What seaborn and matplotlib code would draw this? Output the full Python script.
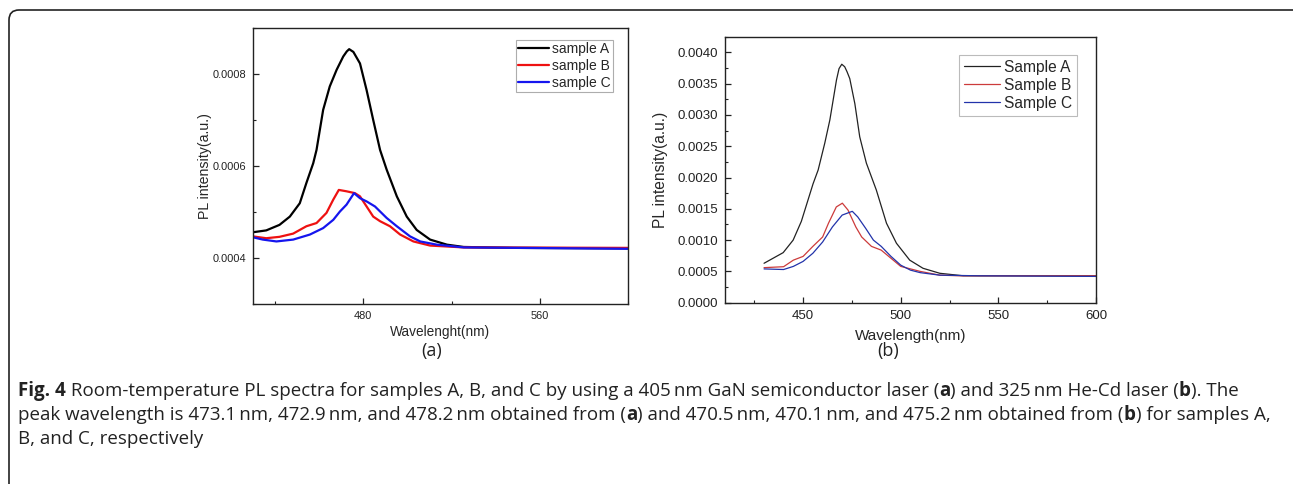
import numpy as np
import pandas as pd
import matplotlib
matplotlib.use("Agg")
import matplotlib.pyplot as plt
import seaborn as sns
from matplotlib.ticker import MultipleLocator
from matplotlib.patches import FancyBboxPatch
from matplotlib.transforms import IdentityTransform

# ---------------- data: panel (a) ----------------
a_A_x = [430, 436, 442, 446.7, 451.2, 454.2, 457.3, 458.8, 461.8, 464.8, 467.9, 470.9, 472.5, 473.6,
         475.5, 478.5, 481.5, 484.5, 487.6, 490.6, 495.2, 499.7, 504.2, 510.3, 517.9, 525.5, 548.2, 600]
a_A_y = [0.000456, 0.00046, 0.000472, 0.00049, 0.000519, 0.000563, 0.000606, 0.000635, 0.000722,
         0.000773, 0.000809, 0.000838, 0.000849, 0.000854, 0.000848, 0.000823, 0.000765, 0.0007, 0.000635,
         0.000592, 0.000534, 0.00049, 0.000461, 0.00044, 0.000429, 0.000424, 0.000422, 0.000421]

a_B_x = [430, 436, 442, 448.2, 454.2, 458.8, 463.3, 466.4, 468.9, 472.4, 476.2, 478.5, 481.5,
         484.5, 487.6, 492.1, 496.7, 502.7, 510.3, 525.5, 600]
a_B_y = [0.000447, 0.000443, 0.000446, 0.000453, 0.000469, 0.000476, 0.000498, 0.000527, 0.000548,
         0.000545, 0.000541, 0.000534, 0.000512, 0.00049, 0.00048, 0.000469, 0.000451, 0.000436,
         0.000427, 0.000423, 0.000422]

a_C_x = [430, 434.5, 440.6, 448.2, 455.8, 461.8, 466.4, 469.4, 472.4, 475.8, 478.5, 481.5, 485.3,
         490.6, 495.2, 501.2, 505.8, 513.3, 525.5, 600]
a_C_y = [0.000445, 0.00044, 0.000436, 0.00044, 0.000451, 0.000465, 0.000483, 0.000501, 0.000516,
         0.000541, 0.00053, 0.000523, 0.000512, 0.000487, 0.000469, 0.000447, 0.000436, 0.000429,
         0.000423, 0.00042]

# ---------------- data: panel (b) ----------------
b_A_x = [430, 439.8, 444.9, 449.1, 455.1, 457.7, 461.1, 463.7, 467.1, 468.4, 469.8, 471.3, 472.5,
         473.9, 476.5, 479, 482.4, 487.5, 492.7, 497.8, 504.6, 511.4, 520, 532, 600]
b_A_y = [0.00063, 0.0008, 0.001, 0.0013, 0.0019, 0.00212, 0.00255, 0.00292, 0.00356, 0.00374,
         0.00381, 0.00377, 0.00369, 0.00358, 0.00318, 0.00265, 0.00223, 0.0018, 0.00127, 0.00095,
         0.00068, 0.00055, 0.00047, 0.00043, 0.00043]

b_B_x = [430, 440, 445, 450, 455, 460, 463, 467, 470.1, 473, 477, 480, 485, 490, 495, 500, 510,
         520, 530, 600]
b_B_y = [0.00056, 0.000575, 0.00068, 0.00074, 0.0009, 0.00105, 0.00127, 0.00153, 0.00159, 0.00148,
         0.00121, 0.00105, 0.0009, 0.00084, 0.00071, 0.00058, 0.0005, 0.00044, 0.00043, 0.00043]

b_C_x = [430, 440, 445, 450, 455, 460, 465, 470, 475.2, 478, 482, 486, 490, 495, 500, 505, 510,
         520, 540, 600]
b_C_y = [0.00054, 0.00053, 0.00058, 0.00066, 0.00079, 0.00097, 0.00121, 0.0014, 0.00146, 0.00137,
         0.00119, 0.001, 0.0009, 0.00074, 0.0006, 0.00052, 0.00048, 0.00044, 0.00043, 0.00042]

labels_a = ["sample A", "sample B", "sample C"]
labels_b = ["Sample A", "Sample B", "Sample C"]

# ---------------- figure ----------------
sns.set_style("ticks")
plt.rcParams["font.family"] = ["Liberation Sans", "DejaVu Sans"]

W, H = 1293, 484
fig = plt.figure(figsize=(W / 100, H / 100), dpi=100)
fig.patch.set_facecolor("white")


def px_axes(left, top, right, bottom):
    return fig.add_axes([left / W, (H - bottom) / H, (right - left) / W, (bottom - top) / H])


def style_axes(ax, fs):
    for s in ax.spines.values():
        s.set_visible(True)
        s.set_color("#222222")
        s.set_linewidth(1.0)
    ax.tick_params(which="major", direction="in", length=4, width=0.9, labelsize=fs,
                   top=False, right=False, pad=5, colors="#222222")
    ax.tick_params(which="minor", direction="in", length=2.5, width=0.8, top=False, right=False,
                   colors="#222222")


# panel (a)
ax1 = px_axes(253, 28, 628, 304)
for xs, ys, lab, col in zip([a_A_x, a_B_x, a_C_x], [a_A_y, a_B_y, a_C_y], labels_a,
                            ["#000000", "#ee1111", "#1515ee"]):
    df = pd.DataFrame({"x": xs, "y": ys})
    sns.lineplot(data=df, x="x", y="y", ax=ax1, color=col, lw=1.6, label=lab, sort=False)
ax1.set_xlim(430, 600)
ax1.set_ylim(0.0003, 0.0009)
ax1.xaxis.set_major_locator(MultipleLocator(80))
ax1.xaxis.set_minor_locator(MultipleLocator(40))
ax1.yaxis.set_major_locator(MultipleLocator(0.0002))
ax1.yaxis.set_minor_locator(MultipleLocator(0.0001))
ax1.yaxis.set_major_formatter(matplotlib.ticker.FuncFormatter(lambda v, p: f"{v:.4f}"))
style_axes(ax1, 7.9)
ax1.set_xlabel("Wavelenght(nm)", fontsize=9.8, labelpad=3)
ax1.set_ylabel("PL intensity(a.u.)", fontsize=10.2, labelpad=0.5)
leg1 = ax1.legend(loc="upper right", bbox_to_anchor=(0.96, 0.957), fontsize=10, frameon=True,
                  fancybox=False, edgecolor="#999999", borderpad=0.15, labelspacing=0.2,
                  handlelength=2.2, handletextpad=0.25, borderaxespad=0.0)
leg1.get_frame().set_linewidth(0.8)

# panel (b)
ax2 = px_axes(725, 36.7, 1096, 302.7)
for xs, ys, lab, col in zip([b_A_x, b_B_x, b_C_x], [b_A_y, b_B_y, b_C_y], labels_b,
                            ["#222222", "#cc3b3b", "#2233aa"]):
    df = pd.DataFrame({"x": xs, "y": ys})
    sns.lineplot(data=df, x="x", y="y", ax=ax2, color=col, lw=0.9, label=lab, sort=False)
ax2.set_xlim(410, 600)
ax2.set_ylim(0, 0.00425)
ax2.xaxis.set_major_locator(MultipleLocator(50))
ax2.xaxis.set_minor_locator(MultipleLocator(25))
ax2.yaxis.set_major_locator(MultipleLocator(0.0005))
ax2.yaxis.set_minor_locator(MultipleLocator(0.00025))
ax2.yaxis.set_major_formatter(matplotlib.ticker.FuncFormatter(lambda v, p: f"{v:.4f}"))
style_axes(ax2, 9.5)
ax2.set_xlabel("Wavelength(nm)", fontsize=11, labelpad=5)
ax2.set_ylabel("PL intensity(a.u.)", fontsize=11.2, labelpad=7)
leg2 = ax2.legend(loc="upper right", bbox_to_anchor=(0.949, 0.931), fontsize=11.2, frameon=True,
                  fancybox=False, edgecolor="#aaaaaa", borderpad=0.3, labelspacing=0.2,
                  handlelength=2.3, handletextpad=0.3, borderaxespad=0.0)
leg2.get_frame().set_linewidth(0.8)

# panel labels
fig.text(432 / W, 1 - 351 / H, "(a)", ha="center", va="center", fontsize=13,
         family=["Open Sans", "DejaVu Sans"], color="#222222")
fig.text(888 / W, 1 - 351 / H, "(b)", ha="center", va="center", fontsize=13,
         family=["Open Sans", "DejaVu Sans"], color="#222222")

# caption with mixed weight
caption = [
    [("Fig. 4", "bold"),
     (" Room-temperature PL spectra for samples A, B, and C by using a 405\u2009nm GaN semiconductor laser (", "normal"),
     ("a", "bold"), (") and 325\u2009nm He-Cd laser (", "normal"), ("b", "bold"), ("). The", "normal")],
    [("peak wavelength is 473.1\u2009nm, 472.9\u2009nm, and 478.2\u2009nm obtained from (", "normal"),
     ("a", "bold"), (") and 470.5\u2009nm, 470.1\u2009nm, and 475.2\u2009nm obtained from (", "normal"),
     ("b", "bold"), (") for samples A,", "normal")],
    [("B, and C, respectively", "normal")],
]
fig.canvas.draw()
renderer = fig.canvas.get_renderer()
for i, line in enumerate(caption):
    y = 391 + 24 * i
    x = 18.0
    for txt, wt in line:
        t = fig.text(x / W, 1 - y / H, txt, ha="left", va="center", fontsize=13.5, weight=wt,
                     color="#222222", family=["Open Sans", "DejaVu Sans"])
        bb = t.get_window_extent(renderer=renderer)
        x += bb.width

# rounded border
border = FancyBboxPatch((9, -30), 1330, H - 10 + 30, boxstyle="round,pad=0,rounding_size=10",
                        transform=IdentityTransform(), facecolor="none", edgecolor="#222222",
                        linewidth=1.2)
fig.patches.append(border)

fig.savefig("out.png", dpi=100, facecolor="white")
